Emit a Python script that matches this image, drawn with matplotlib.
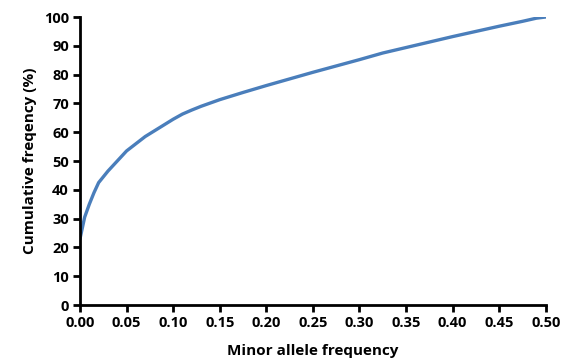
import matplotlib
matplotlib.use("Agg")
import matplotlib.pyplot as plt

# minor allele frequency vs cumulative frequency (%)
maf = [0.0, 0.005, 0.01, 0.015, 0.02, 0.03, 0.04, 0.05, 0.06, 0.07, 0.08,
       0.09, 0.10, 0.11, 0.12, 0.13, 0.15, 0.175, 0.20, 0.225, 0.25, 0.275,
       0.30, 0.325, 0.35, 0.375, 0.40, 0.425, 0.45, 0.475, 0.49, 0.50]
cum_freq = [23.0, 30.5, 35.0, 39.0, 42.5, 46.5, 50.0, 53.5, 56.0, 58.5, 60.5,
            62.5, 64.5, 66.3, 67.7, 69.0, 71.3, 73.8, 76.2, 78.5, 80.8, 83.0,
            85.2, 87.5, 89.4, 91.3, 93.2, 95.0, 96.8, 98.5, 99.6, 100.0]

x_ticks = [0.0, 0.05, 0.10, 0.15, 0.20, 0.25, 0.30, 0.35, 0.40, 0.45, 0.50]
y_ticks = list(range(0, 101, 10))

plt.rcParams["font.family"] = ["Open Sans", "DejaVu Sans"]
plt.rcParams["font.weight"] = "bold"

fig = plt.figure(figsize=(5.65, 3.58), dpi=100)
fig.patch.set_facecolor("white")
ax = fig.add_axes([0.1416, 0.148, 0.8244, 0.8045])

ax.plot(maf, cum_freq, color="#4a7ebb", linewidth=2.4, solid_capstyle="round")

ax.set_xlim(0, 0.5)
ax.set_ylim(0, 100)
ax.set_xticks(x_ticks)
ax.set_xticklabels([f"{v:.2f}" for v in x_ticks])
ax.set_yticks(y_ticks)

for side in ["top", "right"]:
    ax.spines[side].set_visible(False)
for side in ["left", "bottom"]:
    ax.spines[side].set_linewidth(2.0)
    ax.spines[side].set_color("black")

ax.tick_params(axis="both", direction="out", length=5, width=2.0,
               labelsize=10.5, pad=3)
for lbl in ax.get_xticklabels() + ax.get_yticklabels():
    lbl.set_fontweight("bold")

ax.set_ylabel("Cumulative freqency (%)", fontsize=11, fontweight="bold",
              labelpad=5)
ax.set_xlabel("Minor allele frequency", fontsize=11, fontweight="bold",
              labelpad=10)

fig.savefig("out.png", dpi=100, facecolor="white")
